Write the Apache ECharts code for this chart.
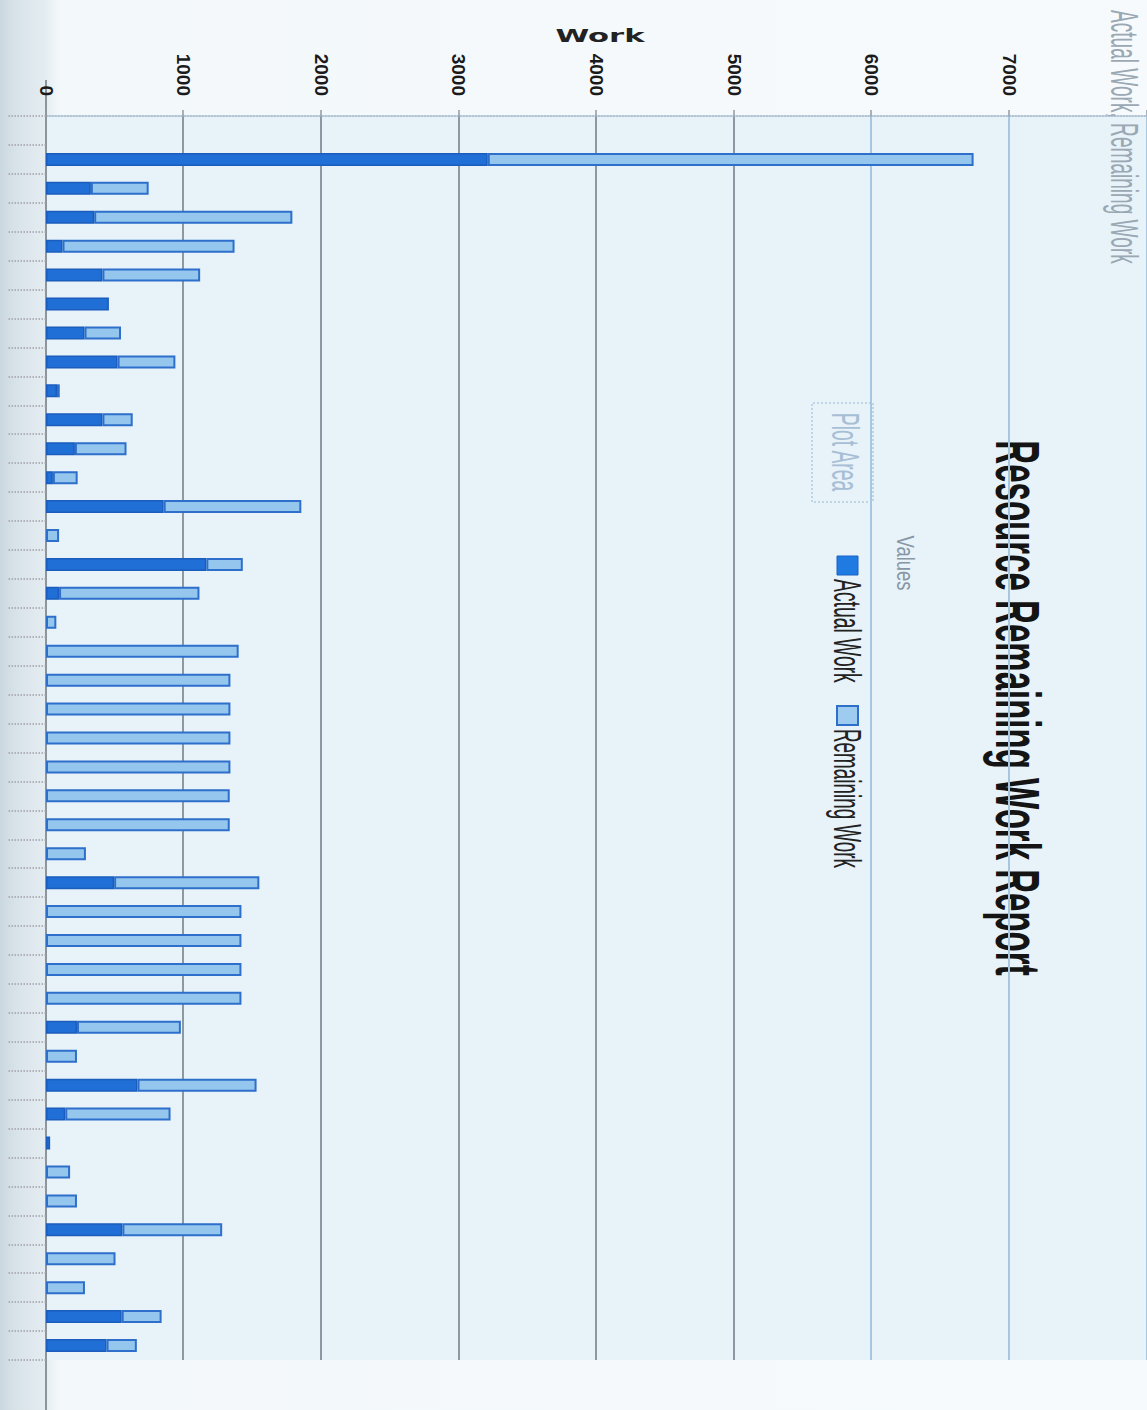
<!DOCTYPE html>
<html>
<head>
<meta charset="utf-8">
<title>Resource Remaining Work Report</title>
<script src="https://cdn.jsdelivr.net/npm/echarts@6/dist/echarts.min.js"></script>
<style>
  html, body { margin: 0; padding: 0; }
  body {
    width: 1147px; height: 1410px; overflow: hidden; position: relative;
    background: linear-gradient(to right, #ccd8e0 0px, #d9e4ea 18px, #e3ecf1 44px, #f3f8fb 60px, #f6fafc 100%);
  }
  /* The report is laid out landscape and turned a quarter turn clockwise onto the page. */
  #chart {
    position: absolute; left: 0; top: 0;
    width: 1410px; height: 1147px;
    transform-origin: 0 0;
    transform: translate(1147px, 0) rotate(90deg);
  }
</style>
</head>
<body>
<div id="chart"></div>
<script>
// One row per resource (the first row has no work booked)
const resources = Array.from({ length: 43 }, (_, i) => 'Resource ' + i);

// Hours of work already done per resource
const actualWork = [0, 3210, 326, 350, 120, 410, 457, 280, 520, 80, 410, 210, 50, 855, 0, 1165, 95, 0, 0, 0, 0, 0, 0, 0, 0, 0, 495, 0, 0, 0, 0, 225, 0, 665, 140, 30, 0, 0, 555, 0, 0, 550, 440];

// Hours of work still to do per resource
const remainingWork = [0, 3530, 420, 1440, 1250, 710, 0, 265, 420, 20, 220, 375, 180, 1000, 95, 265, 1020, 75, 1400, 1340, 1340, 1340, 1340, 1335, 1335, 290, 1055, 1420, 1420, 1420, 1420, 755, 225, 865, 765, 0, 175, 225, 725, 505, 283, 290, 220];

// Work axis ticks
const workTickLabels = [0, 1000, 2000, 3000, 4000, 5000, 6000, 7000];
const workAxisMax = 8000;
const workAxisStep = 1000;

const seriesNames = ['Actual Work', 'Remaining Work'];
const actualColor = '#1f6fd6';
const actualBorder = '#1b5cbc';
const remainingColor = '#95c7ee';
const remainingBorder = '#2e6fcb';

const narrow = '"Liberation Sans Narrow", "Liberation Sans", sans-serif';
// empty rows get no bar at all
const bars = values => values.map(v => (v === 0 ? '-' : v));

const chart = echarts.init(document.getElementById('chart'), null, { renderer: 'svg' });

const centered = { align: 'center', verticalAlign: 'middle', textAlign: 'center', textVerticalAlign: 'middle' };
const leftMid = { align: 'left', verticalAlign: 'middle', textAlign: 'left', textVerticalAlign: 'middle' };

chart.setOption({
  animation: false,
  backgroundColor: 'transparent',
  grid: {
    left: 116, right: 50, top: -3, bottom: 46,
    show: true, backgroundColor: '#e7f2f9', borderWidth: 0
  },
  xAxis: {
    type: 'category',
    data: resources,
    position: 'bottom',
    boundaryGap: true,
    axisLine: { lineStyle: { color: '#8c949c', width: 2 } },
    axisTick: { show: true, interval: 0, length: 39, lineStyle: { color: '#a3a0aa', width: 1.5, type: 'dotted' } },
    axisLabel: { show: false },
    splitLine: { show: false }
  },
  yAxis: {
    type: 'value',
    min: 0,
    max: workAxisMax,
    interval: workAxisStep,
    axisLine: { show: true, lineStyle: { color: '#9db3c6', width: 1.5, type: 'dotted' } },
    axisTick: { show: true, length: 6, lineStyle: { color: '#8f9aa5', width: 1.5 } },
    axisLabel: {
      margin: 20,
      color: '#1a1a1a',
      fontFamily: narrow,
      fontWeight: 'bold',
      fontSize: 19,
      formatter: v => workTickLabels.includes(v) ? String(v) : ''
    },
    splitLine: {
      show: true,
      lineStyle: {
        width: 2,
        color: ['#8e98a3', '#8e98a3', '#8e98a3', '#8e98a3', '#8e98a3', '#8e98a3', '#a6c7df', '#a6c7df', '#a6c7df']
      }
    }
  },
  series: [
    {
      name: seriesNames[0],
      type: 'bar',
      stack: 'work',
      data: bars(actualWork),
      barWidth: 13,
      itemStyle: { color: actualColor, borderColor: actualBorder, borderWidth: 1.5 }
    },
    {
      name: seriesNames[1],
      type: 'bar',
      stack: 'work',
      data: bars(remainingWork),
      barWidth: 13,
      itemStyle: { color: remainingColor, borderColor: remainingBorder, borderWidth: 2 }
    }
  ],
  graphic: {
    elements: [
      // resource axis runs on past the plot
      {
        type: 'line', silent: true, shape: { x1: 80, y1: 1101, x2: 1410, y2: 1101 },
        style: { stroke: '#8c949c', lineWidth: 2 }
      },
      // axis name
      {
        type: 'text', silent: true, x: 36, y: 547, rotation: Math.PI / 2, scaleX: 1.7,
        style: Object.assign({ text: 'Work', font: 'bold 18px "DejaVu Sans", sans-serif', fill: '#222' }, centered)
      },
      // report title
      {
        type: 'text', silent: true, x: 708, y: 130, scaleX: 0.826, scaleY: 1.57,
        style: Object.assign({ text: 'Resource Remaining Work Report', font: 'bold 40px ' + narrow, fill: '#141414' }, centered)
      },
      // series caption in the corner
      {
        type: 'text', silent: true, x: 10, y: 23, scaleX: 0.83, scaleY: 1.7,
        style: Object.assign({ text: seriesNames.join(', '), font: '23px ' + narrow, fill: '#9aa8b4' }, leftMid)
      },
      // legend heading
      {
        type: 'text', silent: true, x: 563, y: 242, scaleX: 0.88, scaleY: 1.15,
        style: Object.assign({ text: 'Values', font: '21px ' + narrow, fill: '#8796a5' }, centered)
      },
      // legend entries
      {
        type: 'rect', silent: true, shape: { x: 556, y: 289, width: 19, height: 21 },
        style: { fill: '#1f7ae2', stroke: '#1b63c4', lineWidth: 1 }
      },
      {
        type: 'text', silent: true, x: 579, y: 300, scaleX: 0.84, scaleY: 1.7,
        style: Object.assign({ text: seriesNames[0], font: '23px ' + narrow, fill: '#222' }, leftMid)
      },
      {
        type: 'rect', silent: true, shape: { x: 706, y: 289, width: 19, height: 21 },
        style: { fill: '#9dccf0', stroke: '#2e6fcb', lineWidth: 2 }
      },
      {
        type: 'text', silent: true, x: 729, y: 300, scaleX: 0.82, scaleY: 1.7,
        style: Object.assign({ text: seriesNames[1], font: '23px ' + narrow, fill: '#222' }, leftMid)
      },
      // plot area marker
      {
        type: 'rect', silent: true, shape: { x: 403, y: 274, width: 99, height: 61 },
        style: { fill: 'none', stroke: '#b3cadd', lineWidth: 1.5, lineDash: [2, 2] }
      },
      {
        type: 'text', silent: true, x: 452, y: 302, scaleX: 0.84, scaleY: 1.65,
        style: Object.assign({ text: 'Plot Area', font: '23px ' + narrow, fill: '#a7bfd5' }, centered)
      }
    ]
  }
});
</script>
</body>
</html>
